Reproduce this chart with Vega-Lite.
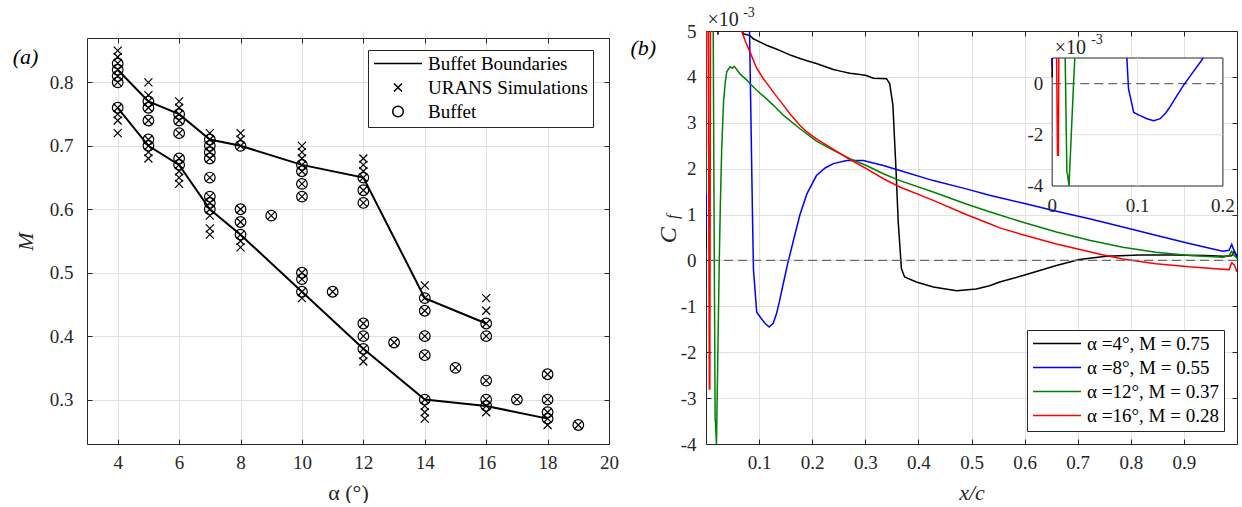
{
"$schema": "https://vega.github.io/schema/vega-lite/v6.json",
"background": "white",
"padding": {"left": 12, "top": 6, "right": 0, "bottom": 0},
"spacing": 97,
"bounds": "flush",
"resolve": {"scale": {"color": "independent", "shape": "independent", "size": "independent"}, "legend": {"color": "independent", "shape": "independent", "size": "independent"}},
"datasets": {
"bound": [
{"a":4,"M":0.82,"b":"u"},{"a":5,"M":0.77,"b":"u"},{"a":6,"M":0.75,"b":"u"},{"a":7,"M":0.71,"b":"u"},{"a":8,"M":0.70,"b":"u"},{"a":10,"M":0.67,"b":"u"},{"a":12,"M":0.65,"b":"u"},{"a":14,"M":0.46,"b":"u"},{"a":16,"M":0.42,"b":"u"},
{"a":4,"M":0.76,"b":"l"},{"a":5,"M":0.70,"b":"l"},{"a":6,"M":0.67,"b":"l"},{"a":7,"M":0.60,"b":"l"},{"a":8,"M":0.56,"b":"l"},{"a":10,"M":0.47,"b":"l"},{"a":12,"M":0.38,"b":"l"},{"a":14,"M":0.30,"b":"l"},{"a":16,"M":0.29,"b":"l"},{"a":18,"M":0.27,"b":"l"}
],
"pts": [
{"a":4,"M":0.85,"k":"U"},{"a":4,"M":0.84,"k":"U"},{"a":4,"M":0.83,"k":"U"},{"a":4,"M":0.82,"k":"U"},{"a":4,"M":0.81,"k":"U"},{"a":4,"M":0.80,"k":"U"},{"a":4,"M":0.76,"k":"U"},{"a":4,"M":0.75,"k":"U"},{"a":4,"M":0.74,"k":"U"},{"a":4,"M":0.72,"k":"U"},
{"a":5,"M":0.80,"k":"U"},{"a":5,"M":0.78,"k":"U"},{"a":5,"M":0.77,"k":"U"},{"a":5,"M":0.76,"k":"U"},{"a":5,"M":0.74,"k":"U"},{"a":5,"M":0.71,"k":"U"},{"a":5,"M":0.70,"k":"U"},{"a":5,"M":0.69,"k":"U"},{"a":5,"M":0.68,"k":"U"},
{"a":6,"M":0.77,"k":"U"},{"a":6,"M":0.76,"k":"U"},{"a":6,"M":0.75,"k":"U"},{"a":6,"M":0.74,"k":"U"},{"a":6,"M":0.72,"k":"U"},{"a":6,"M":0.68,"k":"U"},{"a":6,"M":0.67,"k":"U"},{"a":6,"M":0.66,"k":"U"},{"a":6,"M":0.65,"k":"U"},{"a":6,"M":0.64,"k":"U"},
{"a":7,"M":0.72,"k":"U"},{"a":7,"M":0.71,"k":"U"},{"a":7,"M":0.70,"k":"U"},{"a":7,"M":0.69,"k":"U"},{"a":7,"M":0.68,"k":"U"},{"a":7,"M":0.65,"k":"U"},{"a":7,"M":0.62,"k":"U"},{"a":7,"M":0.61,"k":"U"},{"a":7,"M":0.60,"k":"U"},{"a":7,"M":0.59,"k":"U"},{"a":7,"M":0.57,"k":"U"},{"a":7,"M":0.56,"k":"U"},
{"a":8,"M":0.72,"k":"U"},{"a":8,"M":0.71,"k":"U"},{"a":8,"M":0.70,"k":"U"},{"a":8,"M":0.60,"k":"U"},{"a":8,"M":0.58,"k":"U"},{"a":8,"M":0.56,"k":"U"},{"a":8,"M":0.55,"k":"U"},{"a":8,"M":0.54,"k":"U"},
{"a":9,"M":0.59,"k":"U"},
{"a":10,"M":0.70,"k":"U"},{"a":10,"M":0.69,"k":"U"},{"a":10,"M":0.68,"k":"U"},{"a":10,"M":0.67,"k":"U"},{"a":10,"M":0.66,"k":"U"},{"a":10,"M":0.64,"k":"U"},{"a":10,"M":0.62,"k":"U"},{"a":10,"M":0.50,"k":"U"},{"a":10,"M":0.49,"k":"U"},{"a":10,"M":0.47,"k":"U"},{"a":10,"M":0.46,"k":"U"},
{"a":11,"M":0.47,"k":"U"},
{"a":12,"M":0.68,"k":"U"},{"a":12,"M":0.67,"k":"U"},{"a":12,"M":0.66,"k":"U"},{"a":12,"M":0.65,"k":"U"},{"a":12,"M":0.63,"k":"U"},{"a":12,"M":0.61,"k":"U"},{"a":12,"M":0.42,"k":"U"},{"a":12,"M":0.40,"k":"U"},{"a":12,"M":0.38,"k":"U"},{"a":12,"M":0.37,"k":"U"},{"a":12,"M":0.36,"k":"U"},
{"a":13,"M":0.39,"k":"U"},
{"a":14,"M":0.48,"k":"U"},{"a":14,"M":0.46,"k":"U"},{"a":14,"M":0.44,"k":"U"},{"a":14,"M":0.40,"k":"U"},{"a":14,"M":0.37,"k":"U"},{"a":14,"M":0.30,"k":"U"},{"a":14,"M":0.29,"k":"U"},{"a":14,"M":0.28,"k":"U"},{"a":14,"M":0.27,"k":"U"},
{"a":15,"M":0.35,"k":"U"},
{"a":16,"M":0.46,"k":"U"},{"a":16,"M":0.44,"k":"U"},{"a":16,"M":0.42,"k":"U"},{"a":16,"M":0.40,"k":"U"},{"a":16,"M":0.33,"k":"U"},{"a":16,"M":0.30,"k":"U"},{"a":16,"M":0.29,"k":"U"},{"a":16,"M":0.28,"k":"U"},
{"a":17,"M":0.30,"k":"U"},
{"a":18,"M":0.34,"k":"U"},{"a":18,"M":0.30,"k":"U"},{"a":18,"M":0.28,"k":"U"},{"a":18,"M":0.27,"k":"U"},{"a":18,"M":0.26,"k":"U"},
{"a":19,"M":0.26,"k":"U"},
{"a":4,"M":0.83,"k":"B"},{"a":4,"M":0.82,"k":"B"},{"a":4,"M":0.81,"k":"B"},{"a":4,"M":0.80,"k":"B"},{"a":4,"M":0.76,"k":"B"},
{"a":5,"M":0.77,"k":"B"},{"a":5,"M":0.76,"k":"B"},{"a":5,"M":0.74,"k":"B"},{"a":5,"M":0.71,"k":"B"},{"a":5,"M":0.70,"k":"B"},
{"a":6,"M":0.75,"k":"B"},{"a":6,"M":0.74,"k":"B"},{"a":6,"M":0.72,"k":"B"},{"a":6,"M":0.68,"k":"B"},{"a":6,"M":0.67,"k":"B"},
{"a":7,"M":0.71,"k":"B"},{"a":7,"M":0.70,"k":"B"},{"a":7,"M":0.69,"k":"B"},{"a":7,"M":0.68,"k":"B"},{"a":7,"M":0.65,"k":"B"},{"a":7,"M":0.62,"k":"B"},{"a":7,"M":0.61,"k":"B"},{"a":7,"M":0.60,"k":"B"},
{"a":8,"M":0.70,"k":"B"},{"a":8,"M":0.60,"k":"B"},{"a":8,"M":0.58,"k":"B"},{"a":8,"M":0.56,"k":"B"},
{"a":9,"M":0.59,"k":"B"},
{"a":10,"M":0.67,"k":"B"},{"a":10,"M":0.66,"k":"B"},{"a":10,"M":0.64,"k":"B"},{"a":10,"M":0.62,"k":"B"},{"a":10,"M":0.50,"k":"B"},{"a":10,"M":0.49,"k":"B"},{"a":10,"M":0.47,"k":"B"},
{"a":11,"M":0.47,"k":"B"},
{"a":12,"M":0.65,"k":"B"},{"a":12,"M":0.63,"k":"B"},{"a":12,"M":0.61,"k":"B"},{"a":12,"M":0.42,"k":"B"},{"a":12,"M":0.40,"k":"B"},{"a":12,"M":0.38,"k":"B"},
{"a":13,"M":0.39,"k":"B"},
{"a":14,"M":0.46,"k":"B"},{"a":14,"M":0.44,"k":"B"},{"a":14,"M":0.40,"k":"B"},{"a":14,"M":0.37,"k":"B"},{"a":14,"M":0.30,"k":"B"},
{"a":15,"M":0.35,"k":"B"},
{"a":16,"M":0.42,"k":"B"},{"a":16,"M":0.40,"k":"B"},{"a":16,"M":0.33,"k":"B"},{"a":16,"M":0.30,"k":"B"},{"a":16,"M":0.29,"k":"B"},
{"a":17,"M":0.30,"k":"B"},
{"a":18,"M":0.34,"k":"B"},{"a":18,"M":0.30,"k":"B"},{"a":18,"M":0.28,"k":"B"},{"a":18,"M":0.27,"k":"B"},
{"a":19,"M":0.26,"k":"B"}
],
"cf": [
{"x":0,"y":0.25,"c":"a4"},{"x":0.0015,"y":9,"c":"a4"},{"x":0.019,"y":7,"c":"a4"},{"x":0.0225,"y":4.92,"c":"a4"},{"x":0.026,"y":7,"c":"a4"},{"x":0.055,"y":7,"c":"a4"},{"x":0.066,"y":5.05,"c":"a4"},{"x":0.0705,"y":4.94,"c":"a4"},{"x":0.083,"y":4.9,"c":"a4"},{"x":0.089,"y":4.83,"c":"a4"},{"x":0.1,"y":4.77,"c":"a4"},{"x":0.114,"y":4.69,"c":"a4"},{"x":0.13,"y":4.62,"c":"a4"},{"x":0.146,"y":4.54,"c":"a4"},{"x":0.16,"y":4.47,"c":"a4"},{"x":0.177,"y":4.4,"c":"a4"},{"x":0.19,"y":4.35,"c":"a4"},{"x":0.208,"y":4.29,"c":"a4"},{"x":0.225,"y":4.22,"c":"a4"},{"x":0.24,"y":4.16,"c":"a4"},{"x":0.255,"y":4.12,"c":"a4"},{"x":0.271,"y":4.08,"c":"a4"},{"x":0.29,"y":4.05,"c":"a4"},{"x":0.302,"y":4.03,"c":"a4"},{"x":0.315,"y":3.97,"c":"a4"},{"x":0.34,"y":3.96,"c":"a4"},{"x":0.346,"y":3.85,"c":"a4"},{"x":0.352,"y":3.38,"c":"a4"},{"x":0.358,"y":1.93,"c":"a4"},{"x":0.362,"y":0.84,"c":"a4"},{"x":0.368,"y":-0.18,"c":"a4"},{"x":0.374,"y":-0.36,"c":"a4"},{"x":0.396,"y":-0.47,"c":"a4"},{"x":0.428,"y":-0.58,"c":"a4"},{"x":0.472,"y":-0.66,"c":"a4"},{"x":0.509,"y":-0.62,"c":"a4"},{"x":0.534,"y":-0.55,"c":"a4"},{"x":0.553,"y":-0.47,"c":"a4"},{"x":0.597,"y":-0.33,"c":"a4"},{"x":0.66,"y":-0.11,"c":"a4"},{"x":0.703,"y":0.02,"c":"a4"},{"x":0.754,"y":0.09,"c":"a4"},{"x":0.817,"y":0.12,"c":"a4"},{"x":0.879,"y":0.12,"c":"a4"},{"x":0.94,"y":0.11,"c":"a4"},{"x":0.975,"y":0.09,"c":"a4"},{"x":0.99,"y":0.1,"c":"a4"},{"x":0.995,"y":0.2,"c":"a4"},{"x":1.0,"y":0.05,"c":"a4"},
{"x":0,"y":0.67,"c":"a8"},{"x":0.0015,"y":9,"c":"a8"},{"x":0.079,"y":9,"c":"a8"},{"x":0.082,"y":5.0,"c":"a8"},{"x":0.0875,"y":1.0,"c":"a8"},{"x":0.0894,"y":-0.2,"c":"a8"},{"x":0.0955,"y":-1.13,"c":"a8"},{"x":0.103,"y":-1.25,"c":"a8"},{"x":0.111,"y":-1.37,"c":"a8"},{"x":0.119,"y":-1.45,"c":"a8"},{"x":0.1265,"y":-1.37,"c":"a8"},{"x":0.133,"y":-1.15,"c":"a8"},{"x":0.138,"y":-0.91,"c":"a8"},{"x":0.146,"y":-0.48,"c":"a8"},{"x":0.154,"y":-0.06,"c":"a8"},{"x":0.165,"y":0.45,"c":"a8"},{"x":0.177,"y":1.0,"c":"a8"},{"x":0.19,"y":1.45,"c":"a8"},{"x":0.208,"y":1.85,"c":"a8"},{"x":0.225,"y":2.02,"c":"a8"},{"x":0.24,"y":2.11,"c":"a8"},{"x":0.265,"y":2.18,"c":"a8"},{"x":0.296,"y":2.18,"c":"a8"},{"x":0.334,"y":2.07,"c":"a8"},{"x":0.365,"y":1.96,"c":"a8"},{"x":0.428,"y":1.74,"c":"a8"},{"x":0.49,"y":1.56,"c":"a8"},{"x":0.534,"y":1.42,"c":"a8"},{"x":0.6,"y":1.24,"c":"a8"},{"x":0.66,"y":1.07,"c":"a8"},{"x":0.722,"y":0.91,"c":"a8"},{"x":0.785,"y":0.73,"c":"a8"},{"x":0.847,"y":0.55,"c":"a8"},{"x":0.91,"y":0.37,"c":"a8"},{"x":0.973,"y":0.2,"c":"a8"},{"x":0.985,"y":0.22,"c":"a8"},{"x":0.99,"y":0.35,"c":"a8"},{"x":0.995,"y":0.2,"c":"a8"},{"x":1.0,"y":0.1,"c":"a8"},
{"x":0,"y":1.45,"c":"a12"},{"x":0.0015,"y":9,"c":"a12"},{"x":0.012,"y":9,"c":"a12"},{"x":0.0152,"y":1.0,"c":"a12"},{"x":0.0172,"y":-3.45,"c":"a12"},{"x":0.018,"y":-3.55,"c":"a12"},{"x":0.0197,"y":-4.0,"c":"a12"},{"x":0.025,"y":0,"c":"a12"},{"x":0.027,"y":1.2,"c":"a12"},{"x":0.0295,"y":2.4,"c":"a12"},{"x":0.033,"y":3.45,"c":"a12"},{"x":0.036,"y":3.85,"c":"a12"},{"x":0.039,"y":4.11,"c":"a12"},{"x":0.0455,"y":4.22,"c":"a12"},{"x":0.05,"y":4.19,"c":"a12"},{"x":0.053,"y":4.23,"c":"a12"},{"x":0.058,"y":4.16,"c":"a12"},{"x":0.0645,"y":4.06,"c":"a12"},{"x":0.077,"y":3.93,"c":"a12"},{"x":0.083,"y":3.85,"c":"a12"},{"x":0.0957,"y":3.71,"c":"a12"},{"x":0.114,"y":3.52,"c":"a12"},{"x":0.127,"y":3.38,"c":"a12"},{"x":0.146,"y":3.16,"c":"a12"},{"x":0.177,"y":2.87,"c":"a12"},{"x":0.208,"y":2.6,"c":"a12"},{"x":0.24,"y":2.4,"c":"a12"},{"x":0.271,"y":2.22,"c":"a12"},{"x":0.302,"y":2.07,"c":"a12"},{"x":0.334,"y":1.89,"c":"a12"},{"x":0.365,"y":1.74,"c":"a12"},{"x":0.428,"y":1.49,"c":"a12"},{"x":0.49,"y":1.23,"c":"a12"},{"x":0.534,"y":1.06,"c":"a12"},{"x":0.6,"y":0.82,"c":"a12"},{"x":0.66,"y":0.62,"c":"a12"},{"x":0.722,"y":0.44,"c":"a12"},{"x":0.785,"y":0.29,"c":"a12"},{"x":0.847,"y":0.18,"c":"a12"},{"x":0.91,"y":0.11,"c":"a12"},{"x":0.973,"y":0.07,"c":"a12"},{"x":0.985,"y":0.1,"c":"a12"},{"x":0.99,"y":0.2,"c":"a12"},{"x":0.995,"y":0.1,"c":"a12"},{"x":1.0,"y":0.05,"c":"a12"},
{"x":0,"y":2.36,"c":"a16"},{"x":0.0015,"y":9,"c":"a16"},{"x":0.004,"y":9,"c":"a16"},{"x":0.0052,"y":1.0,"c":"a16"},{"x":0.0062,"y":-2.8,"c":"a16"},{"x":0.0072,"y":-2.8,"c":"a16"},{"x":0.0078,"y":1.0,"c":"a16"},{"x":0.009,"y":9,"c":"a16"},{"x":0.06,"y":9,"c":"a16"},{"x":0.067,"y":5.0,"c":"a16"},{"x":0.075,"y":4.75,"c":"a16"},{"x":0.083,"y":4.54,"c":"a16"},{"x":0.095,"y":4.2,"c":"a16"},{"x":0.108,"y":3.96,"c":"a16"},{"x":0.114,"y":3.87,"c":"a16"},{"x":0.13,"y":3.62,"c":"a16"},{"x":0.146,"y":3.38,"c":"a16"},{"x":0.16,"y":3.17,"c":"a16"},{"x":0.177,"y":2.94,"c":"a16"},{"x":0.19,"y":2.8,"c":"a16"},{"x":0.208,"y":2.65,"c":"a16"},{"x":0.24,"y":2.42,"c":"a16"},{"x":0.271,"y":2.2,"c":"a16"},{"x":0.302,"y":2.0,"c":"a16"},{"x":0.334,"y":1.78,"c":"a16"},{"x":0.365,"y":1.6,"c":"a16"},{"x":0.428,"y":1.31,"c":"a16"},{"x":0.49,"y":1.0,"c":"a16"},{"x":0.534,"y":0.8,"c":"a16"},{"x":0.553,"y":0.71,"c":"a16"},{"x":0.6,"y":0.55,"c":"a16"},{"x":0.66,"y":0.36,"c":"a16"},{"x":0.74,"y":0.14,"c":"a16"},{"x":0.785,"y":0.03,"c":"a16"},{"x":0.847,"y":-0.07,"c":"a16"},{"x":0.91,"y":-0.14,"c":"a16"},{"x":0.96,"y":-0.18,"c":"a16"},{"x":0.985,"y":-0.2,"c":"a16"},{"x":0.99,"y":-0.05,"c":"a16"},{"x":0.995,"y":-0.1,"c":"a16"},{"x":1.0,"y":-0.25,"c":"a16"}
],
"ins": [
{"x":0,"y":0.25,"c":"a4","s":"k1"},{"x":0,"y":1.0,"c":"a4","s":"k1"},
{"x":0,"y":0.67,"c":"a8","s":"b1"},{"x":0,"y":1.0,"c":"a8","s":"b1"},
{"x":0.0875,"y":1.0,"c":"a8","s":"b2"},{"x":0.0894,"y":-0.2,"c":"a8","s":"b2"},{"x":0.0955,"y":-1.13,"c":"a8","s":"b2"},{"x":0.103,"y":-1.25,"c":"a8","s":"b2"},{"x":0.111,"y":-1.37,"c":"a8","s":"b2"},{"x":0.119,"y":-1.45,"c":"a8","s":"b2"},{"x":0.1265,"y":-1.37,"c":"a8","s":"b2"},{"x":0.133,"y":-1.15,"c":"a8","s":"b2"},{"x":0.138,"y":-0.91,"c":"a8","s":"b2"},{"x":0.146,"y":-0.48,"c":"a8","s":"b2"},{"x":0.154,"y":-0.06,"c":"a8","s":"b2"},{"x":0.165,"y":0.45,"c":"a8","s":"b2"},{"x":0.177,"y":1.0,"c":"a8","s":"b2"},
{"x":0.0152,"y":1.0,"c":"a12","s":"g1"},{"x":0.0172,"y":-3.45,"c":"a12","s":"g1"},{"x":0.018,"y":-3.55,"c":"a12","s":"g1"},{"x":0.0197,"y":-4.0,"c":"a12","s":"g1"},{"x":0.025,"y":0,"c":"a12","s":"g1"},{"x":0.0265,"y":1.0,"c":"a12","s":"g1"},
{"x":0.0052,"y":1.0,"c":"a16","s":"r1"},{"x":0.0062,"y":-2.8,"c":"a16","s":"r1"},{"x":0.0072,"y":-2.8,"c":"a16","s":"r1"},{"x":0.0078,"y":1.0,"c":"a16","s":"r1"}
],
"insx": [{"x":0,"y":-4.78,"t":"0"},{"x":0.1,"y":-4.78,"t":"0.1"},{"x":0.2,"y":-4.78,"t":"0.2"}],
"insy": [{"x":-0.0105,"y":0,"t":"0"},{"x":-0.0105,"y":-2,"t":"-2"},{"x":-0.0105,"y":-4,"t":"-4"}]
},
"hconcat": [
{
"width": 522,
"height": 413,
"layer": [
{
"data": {"name": "bound"},
"mark": {"type": "line", "color": "black", "strokeWidth": 2},
"encoding": {
"x": {"field": "a", "type": "quantitative", "scale": {"domain": [3, 20], "nice": false, "zero": false},
"axis": {"orient": "bottom", "values": [4,6,8,10,12,14,16,18,20], "grid": true, "title": "α (°)", "labelExpr": "'' + datum.value", "labelPadding": 14, "titlePadding": 10}},
"y": {"field": "M", "type": "quantitative", "scale": {"domain": [0.23, 0.87], "range": [413, 7], "nice": false, "zero": false},
"axis": {"orient": "left", "values": [0.3,0.4,0.5,0.6,0.7,0.8], "grid": true, "title": "M", "titleFontStyle": "italic", "labelExpr": "'' + datum.value", "labelPadding": 19, "titlePadding": 12}},
"detail": {"field": "b", "type": "nominal"}
}
},
{
"data": {"name": "pts"},
"mark": {"type": "point", "filled": false, "stroke": "black", "strokeWidth": 1.2, "opacity": 1},
"encoding": {
"x": {"field": "a", "type": "quantitative", "axis": {"orient": "top", "values": [4,6,8,10,12,14,16,18,20], "labels": false, "grid": false, "title": null, "offset": -7}},
"y": {"field": "M", "type": "quantitative", "axis": {"orient": "right", "values": [0.3,0.4,0.5,0.6,0.7,0.8], "labels": false, "grid": false, "title": null}},
"shape": {"field": "k", "type": "nominal", "scale": {"domain": ["L", "U", "B"], "range": ["stroke", "M-1,-1L1,1M-1,1L1,-1", "circle"]},
"legend": {"orient": "none", "legendX": 281, "legendY": 19, "title": null, "clipHeight": 17, "rowPadding": 4, "padding": 5, "strokeColor": "#262626", "fillColor": "white", "labelFontSize": 19, "labelFont": "Liberation Serif", "labelColor": "black", "labelOffset": 5, "symbolStrokeColor": "black", "symbolStrokeWidth": 1.5, "symbolFillColor": "transparent", "zindex": 1, "labelExpr": "datum.label == 'L' ? 'Buffet Boundaries' : datum.label == 'U' ? 'URANS Simulations' : 'Buffet'"}},
"size": {"field": "k", "type": "nominal", "scale": {"type": "ordinal", "domain": ["L", "U", "B"], "range": [2304, 64, 113]},
"legend": {"orient": "none", "legendX": 281, "legendY": 19, "title": null, "clipHeight": 17, "rowPadding": 4, "padding": 5, "strokeColor": "#262626", "fillColor": "white", "labelFontSize": 19, "labelFont": "Liberation Serif", "labelColor": "black", "labelOffset": 5, "symbolStrokeColor": "black", "symbolStrokeWidth": 1.5, "symbolFillColor": "transparent", "zindex": 1, "labelExpr": "datum.label == 'L' ? 'Buffet Boundaries' : datum.label == 'U' ? 'URANS Simulations' : 'Buffet'"}}
}
},
{
"data": {"values": [{"a": 1.0, "M": 0.84, "t": "(a)"}]},
"mark": {"type": "text", "fontSize": 22, "fontStyle": "italic", "font": "Liberation Serif", "color": "black", "align": "center", "baseline": "middle"},
"encoding": {
"x": {"field": "a", "type": "quantitative", "axis": null},
"y": {"field": "M", "type": "quantitative", "axis": null},
"text": {"field": "t"}
}
}
]
},
{
"width": 531,
"height": 413,
"resolve": {"scale": {"x": "independent", "y": "independent"}},
"layer": [
{
"layer": [
{
"data": {"name": "cf"},
"mark": {"type": "line", "strokeWidth": 1.5, "clip": true},
"encoding": {
"x": {"field": "x", "type": "quantitative", "scale": {"domain": [0, 1], "nice": false, "zero": false},
"axis": {"orient": "bottom", "values": [0.1,0.2,0.3,0.4,0.5,0.6,0.7,0.8,0.9], "grid": true, "title": "x/c", "titleFontStyle": "italic", "labelExpr": "'' + datum.value", "labelPadding": 14, "titlePadding": 10}},
"y": {"field": "y", "type": "quantitative", "scale": {"domain": [-4, 5], "nice": false, "zero": false},
"axis": {"orient": "left", "values": [-4,-3,-2,-1,0,1,2,3,4,5], "grid": true, "title": null, "labelExpr": "'' + datum.value", "labelPadding": 15}},
"color": {"field": "c", "type": "nominal", "scale": {"domain": ["a4", "a8", "a12", "a16"], "range": ["#000000", "#0000ff", "#008000", "#ff0000"]},
"legend": {"orient": "bottom-right", "offset": 13, "title": null, "clipHeight": 17, "rowPadding": 4, "padding": 5, "strokeColor": "#262626", "fillColor": "white", "labelFontSize": 19, "labelFont": "Liberation Serif", "labelColor": "black", "labelOffset": 5, "symbolType": "stroke", "symbolSize": 2304, "symbolStrokeWidth": 1.5, "zindex": 1, "labelLimit": 300,
"labelExpr": "datum.label == 'a4' ? 'α =4°, M = 0.75' : datum.label == 'a8' ? 'α =8°, M = 0.55' : datum.label == 'a12' ? 'α =12°, M = 0.37' : 'α =16°, M = 0.28'"}},
"order": {"value": null}
}
},
{
"data": {"values": [{"y": 0}]},
"mark": {"type": "rule", "color": "#6b6b6b", "strokeWidth": 1.2, "strokeDash": [9, 5]},
"encoding": {
"y": {"field": "y", "type": "quantitative", "axis": {"orient": "right", "values": [-4,-3,-2,-1,0,1,2,3,4,5], "labels": false, "grid": false, "title": null}}
}
},
{
"data": {"values": [{"x": -0.118, "y": 4.63, "t": "(b)"}]},
"mark": {"type": "text", "fontSize": 22, "fontStyle": "italic", "font": "Liberation Serif", "color": "black", "align": "center", "baseline": "middle"},
"encoding": {
"x": {"field": "x", "type": "quantitative", "axis": {"orient": "top", "values": [0.1,0.2,0.3,0.4,0.5,0.6,0.7,0.8,0.9], "labels": false, "grid": false, "title": null}},
"y": {"field": "y", "type": "quantitative", "axis": null},
"text": {"field": "t"}
}
},
{
"data": {"values": [{"x": -0.069, "y": 0.55, "t": "C"}]},
"mark": {"type": "text", "fontSize": 24, "fontStyle": "italic", "font": "Liberation Serif", "color": "#262626", "align": "center", "baseline": "middle", "angle": 270},
"encoding": {
"x": {"field": "x", "type": "quantitative", "axis": null},
"y": {"field": "y", "type": "quantitative", "axis": null},
"text": {"field": "t"}
}
},
{
"data": {"values": [{"x": -0.063, "y": 0.95, "t": "f"}]},
"mark": {"type": "text", "fontSize": 16, "fontStyle": "italic", "font": "Liberation Serif", "color": "#262626", "align": "center", "baseline": "middle", "angle": 270},
"encoding": {
"x": {"field": "x", "type": "quantitative", "axis": null},
"y": {"field": "y", "type": "quantitative", "axis": null},
"text": {"field": "t"}
}
},
{
"data": {"values": [{"x": 0.003, "y": 5.11, "t": "×10"}]},
"mark": {"type": "text", "fontSize": 20, "font": "Liberation Serif", "color": "#262626", "align": "left", "baseline": "alphabetic"},
"encoding": {
"x": {"field": "x", "type": "quantitative", "axis": null},
"y": {"field": "y", "type": "quantitative", "axis": null},
"text": {"field": "t"}
}
},
{
"data": {"values": [{"x": 0.07, "y": 5.3, "t": "-3"}]},
"mark": {"type": "text", "fontSize": 14, "font": "Liberation Serif", "color": "#262626", "align": "left", "baseline": "alphabetic"},
"encoding": {
"x": {"field": "x", "type": "quantitative", "axis": null},
"y": {"field": "y", "type": "quantitative", "axis": null},
"text": {"field": "t"}
}
}
]
},
{
"layer": [
{
"data": {"values": [{"x": 0, "x2": 0.2, "y": -4, "y2": 1}]},
"mark": {"type": "rect", "fill": "white", "stroke": "#262626", "strokeWidth": 1},
"encoding": {
"x": {"field": "x", "type": "quantitative", "scale": {"domain": [0, 0.2], "range": [346.2, 516.9], "nice": false, "zero": false}, "axis": null},
"x2": {"field": "x2"},
"y": {"field": "y", "type": "quantitative", "scale": {"domain": [-4, 1], "range": [155, 27], "nice": false, "zero": false}, "axis": null},
"y2": {"field": "y2"}
}
},
{
"data": {"values": [{"x": 0.1, "x2": 0.1, "y": -4, "y2": 1}, {"x": 0, "x2": 0.2, "y": -2, "y2": -2}]},
"mark": {"type": "rule", "color": "#e1e1e1", "strokeWidth": 1},
"encoding": {
"x": {"field": "x", "type": "quantitative", "axis": null},
"x2": {"field": "x2"},
"y": {"field": "y", "type": "quantitative", "axis": null},
"y2": {"field": "y2"}
}
},
{
"data": {"values": [{"x": 0, "x2": 0.2, "y": 0}]},
"mark": {"type": "rule", "color": "#6b6b6b", "strokeWidth": 1.2, "strokeDash": [9, 5]},
"encoding": {
"x": {"field": "x", "type": "quantitative", "axis": null},
"x2": {"field": "x2"},
"y": {"field": "y", "type": "quantitative", "axis": null}
}
},
{
"data": {"name": "ins"},
"mark": {"type": "line", "strokeWidth": 1.5},
"encoding": {
"x": {"field": "x", "type": "quantitative", "axis": null},
"y": {"field": "y", "type": "quantitative", "axis": null},
"color": {"field": "c", "type": "nominal", "legend": null},
"detail": {"field": "s", "type": "nominal"},
"order": {"value": null}
}
},
{
"data": {"name": "insx"},
"mark": {"type": "text", "fontSize": 19, "font": "Liberation Serif", "color": "#262626", "align": "center", "baseline": "middle"},
"encoding": {
"x": {"field": "x", "type": "quantitative", "axis": null},
"y": {"field": "y", "type": "quantitative", "axis": null},
"text": {"field": "t"}
}
},
{
"data": {"name": "insy"},
"mark": {"type": "text", "fontSize": 19, "font": "Liberation Serif", "color": "#262626", "align": "right", "baseline": "middle"},
"encoding": {
"x": {"field": "x", "type": "quantitative", "axis": null},
"y": {"field": "y", "type": "quantitative", "axis": null},
"text": {"field": "t"}
}
},
{
"data": {"values": [{"x": 0.003, "y": 1.17, "t": "×10"}]},
"mark": {"type": "text", "fontSize": 20, "font": "Liberation Serif", "color": "#262626", "align": "left", "baseline": "alphabetic"},
"encoding": {
"x": {"field": "x", "type": "quantitative", "axis": null},
"y": {"field": "y", "type": "quantitative", "axis": null},
"text": {"field": "t"}
}
},
{
"data": {"values": [{"x": 0.0457, "y": 1.54, "t": "-3"}]},
"mark": {"type": "text", "fontSize": 14, "font": "Liberation Serif", "color": "#262626", "align": "left", "baseline": "alphabetic"},
"encoding": {
"x": {"field": "x", "type": "quantitative", "axis": null},
"y": {"field": "y", "type": "quantitative", "axis": null},
"text": {"field": "t"}
}
}
]
}
]
}
],
"config": {
"font": "Liberation Serif",
"view": {"stroke": null},
"axis": {"domainColor": "#262626", "tickColor": "#262626", "labelColor": "#262626", "labelFontSize": 19, "labelFont": "Liberation Serif", "titleFont": "Liberation Serif", "titleFontSize": 22, "titleFontWeight": "normal", "titleColor": "#262626", "gridColor": "#e1e1e1", "gridWidth": 1, "tickSize": -5, "labelFlush": false, "labelOverlap": false, "domainWidth": 1}
}
}
